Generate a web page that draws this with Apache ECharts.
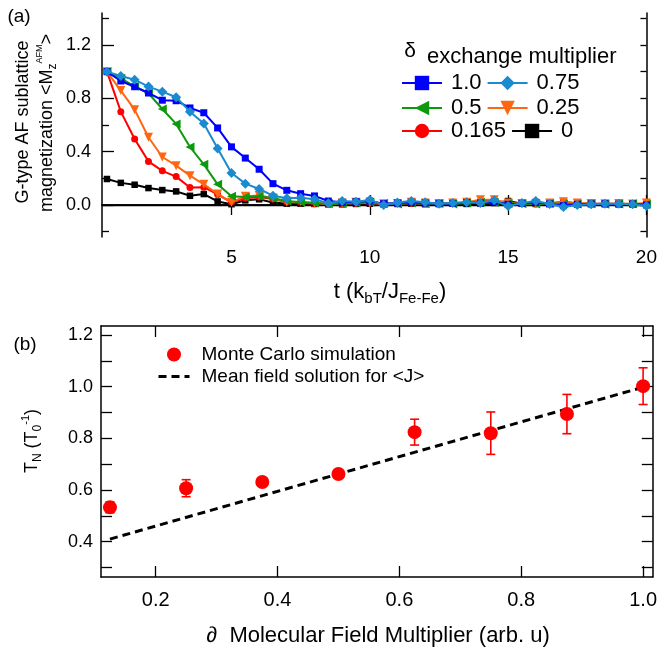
<!DOCTYPE html>
<html>
<head>
<meta charset="utf-8">
<script src="https://cdn.jsdelivr.net/npm/echarts@6/dist/echarts.min.js"></script>
<style>
  html, body { margin: 0; padding: 0; background: #fff; }
  #chart { width: 660px; height: 655px; }
</style>
</head>
<body>
<div id="chart"></div>
<script>
// ---- Panel (a): sublattice magnetization vs temperature ----
const tValues = [0.5, 1.0, 1.5, 2.0, 2.5, 3.0, 3.5, 4.0, 4.5, 5.0,
                 5.5, 6.0, 6.5, 7.0, 7.5, 8.0, 8.5, 9.0, 9.5, 10.0,
                 10.5, 11.0, 11.5, 12.0, 12.5, 13.0, 13.5, 14.0, 14.5, 15.0,
                 15.5, 16.0, 16.5, 17.0, 17.5, 18.0, 18.5, 19.0, 19.5, 20.0];

const mDelta100 = [1.000, 0.930, 0.887, 0.840, 0.786, 0.782, 0.728, 0.692, 0.578, 0.436,
                   0.352, 0.268, 0.160, 0.110, 0.085, 0.068, 0.030, 0.020, 0.025, 0.030,
                   0.010, 0.015, 0.020, 0.015, 0.010, 0.012, 0.018, 0.015, 0.025, 0.005,
                   0.012, 0.020, 0.008, -0.005, 0.005, 0.008, 0.010, 0.006, 0.008, 0.000];
const mDelta075 = [1.000, 0.968, 0.940, 0.888, 0.850, 0.808, 0.700, 0.612, 0.424, 0.240,
                   0.160, 0.120, 0.070, 0.050, 0.055, 0.043, 0.013, 0.030, 0.025, 0.038,
                   0.000, 0.018, 0.030, 0.020, 0.010, 0.015, 0.020, 0.015, 0.035, -0.008,
                   0.015, 0.030, 0.008, -0.015, 0.000, 0.005, 0.010, 0.010, 0.005, -0.008];
const mDelta050 = [1.000, 0.950, 0.890, 0.838, 0.720, 0.608, 0.435, 0.305, 0.155, 0.065,
                   0.060, 0.065, 0.050, 0.030, 0.020, 0.015, 0.010, 0.010, 0.015, 0.020,
                   0.012, 0.008, 0.015, 0.010, 0.012, 0.008, 0.015, 0.020, 0.018, 0.012,
                   0.010, 0.008, 0.012, 0.010, 0.008, 0.010, 0.006, 0.008, 0.010, 0.005];
const mDelta025 = [1.000, 0.858, 0.715, 0.508, 0.360, 0.295, 0.220, 0.155, 0.083, 0.020,
                   0.066, 0.072, 0.052, 0.020, 0.025, 0.015, 0.010, 0.015, 0.020, 0.015,
                   0.010, 0.012, 0.020, 0.015, 0.012, 0.015, 0.020, 0.040, 0.040, 0.015,
                   0.012, 0.010, 0.015, 0.025, 0.015, 0.012, 0.010, 0.012, 0.008, 0.015];
const mDelta0165 = [1.000, 0.700, 0.495, 0.327, 0.256, 0.213, 0.131, 0.134, 0.079, 0.020,
                    0.050, 0.060, 0.045, 0.020, 0.015, 0.010, 0.008, 0.010, 0.012, 0.015,
                    0.008, 0.010, 0.012, 0.010, 0.008, 0.012, 0.015, 0.030, 0.035, 0.012,
                    0.010, 0.008, 0.010, 0.020, 0.012, 0.010, 0.008, 0.010, 0.006, 0.010];
const mDelta000 = [0.195, 0.166, 0.152, 0.127, 0.112, 0.102, 0.069, 0.082, 0.027, 0.006,
                   0.035, 0.043, 0.018, 0.010, 0.010, 0.008, 0.005, 0.005, 0.008, 0.010,
                   0.005, 0.008, 0.010, 0.006, 0.008, 0.010, 0.008, 0.012, 0.015, 0.030,
                   0.010, 0.008, 0.010, 0.025, 0.010, 0.008, 0.006, 0.008, 0.005, 0.008];

const xTicksA = [5, 10, 15, 20];
const yLabelsA = [0.0, 0.4, 0.8, 1.2];
const yMinorA = [-0.2, 0.2, 0.6, 1.0, 1.4];
const yAllA = [-0.2, 0.0, 0.2, 0.4, 0.6, 0.8, 1.0, 1.2, 1.4];

// ---- Panel (b): Neel temperature vs molecular field multiplier ----
const mcX   = [0.125, 0.25, 0.375, 0.5, 0.625, 0.75, 0.875, 1.0];
const mcY   = [0.533, 0.607, 0.631, 0.662, 0.824, 0.820, 0.894, 1.002];
const mcErr = [0.021, 0.033, 0.012, 0.008, 0.050, 0.082, 0.076, 0.071];
const mfX   = [0.125, 1.0];
const mfY   = [0.410, 0.998];

const xTicksB = [0.2, 0.4, 0.6, 0.8, 1.0];
const yLabelsB = [0.4, 0.6, 0.8, 1.0, 1.2];
const yAllB = [0.3, 0.4, 0.5, 0.6, 0.7, 0.8, 0.9, 1.0, 1.1, 1.2];

const FONT = 'Liberation Sans, Arial, Helvetica, sans-serif';

const pair = (xs, ys) => xs.map((x, i) => [x, ys[i]]);

const lineSeries = [
  { name: '0',     data: mDelta000,  color: '#000000', symbol: 'rect',     size: 6.5, rot: 0 },
  { name: '0.165', data: mDelta0165, color: '#ff0000', symbol: 'circle',   size: 7,   rot: 0 },
  { name: '0.25',  data: mDelta025,  color: '#ff6612', symbol: 'triangle', size: 9,   rot: 180 },
  { name: '0.5',   data: mDelta050,  color: '#0d990d', symbol: 'triangle', size: 9,   rot: 90 },
  { name: '1.0',   data: mDelta100,  color: '#0000ff', symbol: 'rect',     size: 7,   rot: 0 },
  { name: '0.75',  data: mDelta075,  color: '#1b8bcf', symbol: 'diamond',  size: 10,  rot: 0 }
].map((s, i) => ({
  type: 'line',
  name: s.name,
  xAxisIndex: 0,
  yAxisIndex: 0,
  data: pair(tValues, s.data),
  symbol: s.symbol,
  symbolSize: s.size,
  symbolRotate: s.rot,
  showSymbol: true,
  color: s.color,
  lineStyle: { width: 2, color: s.color },
  itemStyle: { color: s.color },
  z: 3 + i,
  silent: true,
  markLine: i === 0 ? {
    silent: true,
    symbol: ['none', 'none'],
    label: { show: false },
    lineStyle: { color: '#000', width: 1.3, type: 'solid' },
    data: [{ yAxis: 0 }]
  } : undefined
}));

const axisLineStyle = { show: true, lineStyle: { color: '#000', width: 1.5 } };
const tickStyle = { color: '#000', width: 1.3 };

function rowLegend(names, top) {
  return {
    data: names,
    left: 401, top: top,
    orient: 'horizontal',
    itemWidth: 40, itemHeight: 18, itemGap: 5,
    padding: 0,
    selectedMode: false,
    lineStyle: { width: 2 },
    textStyle: { fontSize: 22, fontFamily: FONT, color: '#000', padding: [0, 0, 0, 4] }
  };
}

const option = {
  animation: false,
  backgroundColor: '#fff',
  grid: [
    { left: 102, top: 13, width: 548, height: 224 },
    { left: 101, top: 326, width: 552, height: 251 }
  ],
  xAxis: [
    { // (a) bottom
      type: 'value', gridIndex: 0, position: 'bottom', min: 0.32, max: 20,
      axisLine: axisLineStyle,
      axisTick: { show: true, inside: true, length: 10, lineStyle: tickStyle, customValues: xTicksA },
      axisLabel: { customValues: xTicksA, fontSize: 19, fontFamily: FONT, color: '#000', margin: 11 },
      splitLine: { show: false }
    },
    { // (a) top
      type: 'value', gridIndex: 0, position: 'top', min: 0.32, max: 20,
      axisLine: axisLineStyle,
      axisTick: { show: true, inside: true, length: 10, lineStyle: tickStyle, customValues: xTicksA },
      axisLabel: { show: false },
      splitLine: { show: false }
    },
    { // (b) bottom
      type: 'value', gridIndex: 1, position: 'bottom', min: 0.1103, max: 1.0159,
      axisLine: axisLineStyle,
      axisTick: { show: true, inside: true, length: 11, lineStyle: tickStyle, customValues: xTicksB },
      axisLabel: { customValues: xTicksB, fontSize: 20, fontFamily: FONT, color: '#000', margin: 13,
                   formatter: v => v.toFixed(1) },
      splitLine: { show: false }
    },
    { // (b) top
      type: 'value', gridIndex: 1, position: 'top', min: 0.1103, max: 1.0159,
      axisLine: axisLineStyle,
      axisTick: { show: true, inside: true, length: 11, lineStyle: tickStyle, customValues: xTicksB },
      axisLabel: { show: false },
      splitLine: { show: false }
    }
  ],
  yAxis: [
    { // (a) left, labelled ticks
      type: 'value', gridIndex: 0, position: 'left', min: -0.24, max: 1.44,
      axisLine: axisLineStyle,
      axisTick: { show: true, inside: true, length: 12, lineStyle: tickStyle, customValues: yLabelsA },
      axisLabel: { customValues: yLabelsA, fontSize: 18, fontFamily: FONT, color: '#000', margin: 11,
                   formatter: v => v.toFixed(1) },
      splitLine: { show: false }
    },
    { // (a) left, intermediate ticks
      type: 'value', gridIndex: 0, position: 'left', min: -0.24, max: 1.44,
      axisLine: { show: false },
      axisTick: { show: true, inside: true, length: 7, lineStyle: tickStyle, customValues: yMinorA },
      axisLabel: { show: false },
      splitLine: { show: false }
    },
    { // (a) right
      type: 'value', gridIndex: 0, position: 'right', min: -0.24, max: 1.44,
      axisLine: axisLineStyle,
      axisTick: { show: true, inside: true, length: 6, lineStyle: tickStyle, customValues: yAllA },
      axisLabel: { show: false },
      splitLine: { show: false }
    },
    { // (b) left
      type: 'value', gridIndex: 1, position: 'left', min: 0.2634, max: 1.2348,
      axisLine: axisLineStyle,
      axisTick: { show: true, inside: true, length: 11, lineStyle: tickStyle, customValues: yAllB },
      axisLabel: { customValues: yLabelsB, fontSize: 18, fontFamily: FONT, color: '#000', margin: 8,
                   formatter: v => v.toFixed(1) },
      splitLine: { show: false }
    },
    { // (b) right
      type: 'value', gridIndex: 1, position: 'right', min: 0.2634, max: 1.2348,
      axisLine: axisLineStyle,
      axisTick: { show: true, inside: true, length: 11, lineStyle: tickStyle, customValues: yAllB },
      axisLabel: { show: false },
      splitLine: { show: false }
    }
  ],
  legend: [
    rowLegend(['1.0', '0.75'], 72),
    rowLegend(['0.5', '0.25'], 97),
    rowLegend(['0.165', '0'], 120),
    {
      data: [
        { name: 'Monte Carlo simulation' },
        { name: 'Mean field solution for <J>', itemStyle: { color: 'rgba(0,0,0,0)', borderWidth: 0 } }
      ],
      left: 157, top: 345,
      orient: 'vertical',
      itemWidth: 31, itemHeight: 14, itemGap: 3,
      padding: 0,
      selectedMode: false,
      lineStyle: { width: 3 },
      textStyle: { fontSize: 19, fontFamily: FONT, color: '#000', padding: [0, 0, 0, 7] }
    }
  ],
  series: lineSeries.concat([
    {
      type: 'line',
      name: 'Mean field solution for <J>',
      xAxisIndex: 2, yAxisIndex: 3,
      data: pair(mfX, mfY),
      showSymbol: false,
      symbol: 'circle',
      color: '#000',
      lineStyle: { color: '#000', width: 3, type: [8, 5] },
      z: 3,
      silent: true
    },
    {
      type: 'custom',
      name: 'Monte Carlo error',
      xAxisIndex: 2, yAxisIndex: 3,
      data: mcX.map((x, i) => [x, mcY[i] - mcErr[i], mcY[i] + mcErr[i]]),
      encode: { x: 0, y: [1, 2] },
      z: 4,
      silent: true,
      renderItem: function (params, api) {
        const x = api.value(0);
        const lo = api.coord([x, api.value(1)]);
        const hi = api.coord([x, api.value(2)]);
        const cap = 4.5;
        const st = { stroke: '#ff0000', lineWidth: 1.6 };
        return {
          type: 'group',
          children: [
            { type: 'line', shape: { x1: hi[0], y1: hi[1], x2: lo[0], y2: lo[1] }, style: st },
            { type: 'line', shape: { x1: hi[0] - cap, y1: hi[1], x2: hi[0] + cap, y2: hi[1] }, style: st },
            { type: 'line', shape: { x1: lo[0] - cap, y1: lo[1], x2: lo[0] + cap, y2: lo[1] }, style: st }
          ]
        };
      }
    },
    {
      type: 'scatter',
      name: 'Monte Carlo simulation',
      xAxisIndex: 2, yAxisIndex: 3,
      data: pair(mcX, mcY),
      symbol: 'circle',
      symbolSize: 14,
      itemStyle: { color: '#ff0000', opacity: 1 },
      z: 5,
      silent: true
    }
  ]),
  graphic: [
    { type: 'text', x: 19, y: 17,
      style: { text: '(a)', font: '19px ' + FONT, fill: '#000', align: 'center', verticalAlign: 'middle' } },
    { type: 'text', x: 25, y: 345,
      style: { text: '(b)', font: '19px ' + FONT, fill: '#000', align: 'center', verticalAlign: 'middle' } },
    // legend heading of panel (a)
    { type: 'text', x: 410, y: 51,
      style: { text: 'δ', font: '21px ' + FONT, fill: '#000', align: 'center', verticalAlign: 'middle' } },
    { type: 'text', x: 427, y: 57,
      style: { text: 'exchange multiplier', font: '22px ' + FONT, fill: '#000', align: 'left', verticalAlign: 'middle' } },
    // y title of panel (a)
    { type: 'text', x: 23, y: 122, rotation: Math.PI / 2,
      style: { text: 'G-type AF sublattice', font: '18px ' + FONT, fill: '#000', align: 'center', verticalAlign: 'middle' } },
    { type: 'text', x: 47, y: 123, rotation: Math.PI / 2,
      style: {
        text: '{m|magnetization <M}{s|z}{p|AFM}{m|>}',
        align: 'center', verticalAlign: 'middle',
        rich: {
          m: { fontSize: 18, fontFamily: FONT, fill: '#000', lineHeight: 24 },
          s: { fontSize: 12, fontFamily: FONT, fill: '#000', lineHeight: 24, verticalAlign: 'bottom' },
          p: { fontSize: 9, fontFamily: FONT, fill: '#000', lineHeight: 24, verticalAlign: 'top' }
        }
      } },
    // x title of panel (a)
    { type: 'text', x: 390, y: 292,
      style: {
        text: '{m|t (k}{s|bT}{m|/J}{s|Fe-Fe}{m|)}',
        align: 'center', verticalAlign: 'middle',
        rich: {
          m: { fontSize: 22, fontFamily: FONT, fill: '#000', lineHeight: 28 },
          s: { fontSize: 15, fontFamily: FONT, fill: '#000', lineHeight: 28, verticalAlign: 'bottom' }
        }
      } },
    // y title of panel (b)
    { type: 'text', x: 32, y: 441, rotation: Math.PI / 2,
      style: {
        text: '{m|T}{s|N}{m| (T}{s|0}{p|-1}{m|)}',
        align: 'center', verticalAlign: 'middle',
        rich: {
          m: { fontSize: 18, fontFamily: FONT, fill: '#000', lineHeight: 24 },
          s: { fontSize: 12, fontFamily: FONT, fill: '#000', lineHeight: 24, verticalAlign: 'bottom' },
          p: { fontSize: 11, fontFamily: FONT, fill: '#000', lineHeight: 24, verticalAlign: 'top' }
        }
      } },
    // x title of panel (b)
    { type: 'text', x: 378, y: 636,
      style: { text: '∂  Molecular Field Multiplier (arb. u)', font: '22px ' + FONT, fill: '#000',
               align: 'center', verticalAlign: 'middle' } }
  ]
};

const chart = echarts.init(document.getElementById('chart'), null, { renderer: 'canvas' });
chart.setOption(option);
</script>
</body>
</html>
